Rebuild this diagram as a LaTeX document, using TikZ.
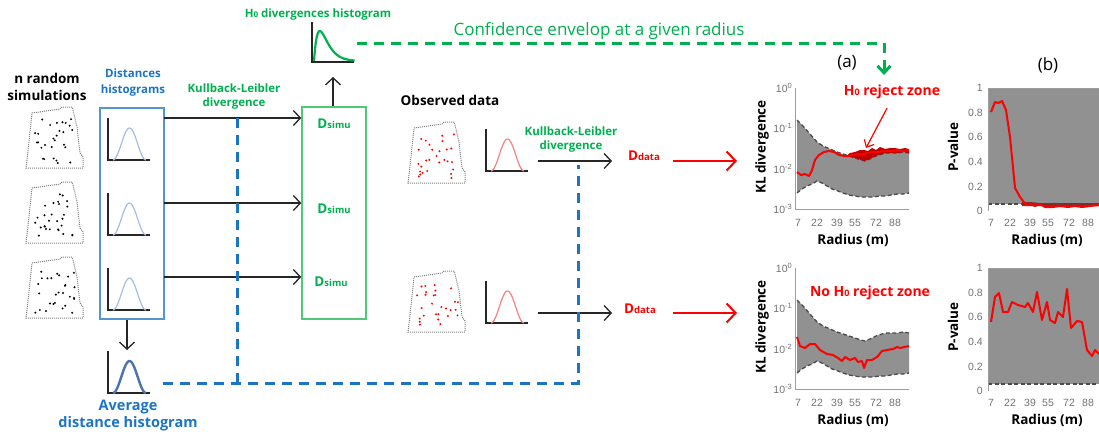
\documentclass[tikz,border=0pt]{standalone}
\usepackage{fontspec}
\setmainfont{Open Sans}
\newfontfamily\tickfont{Liberation Sans}
\usetikzlibrary{arrows.meta,positioning}

\definecolor{kgreen}{RGB}{0,176,80}
\definecolor{kgreenbox}{RGB}{80,200,120}
\definecolor{kblue}{RGB}{28,117,196}
\definecolor{kbluebox}{RGB}{85,150,210}
\definecolor{histblue}{RGB}{165,190,225}
\definecolor{avgblue}{RGB}{75,115,180}
\definecolor{histred}{RGB}{245,130,130}
\definecolor{bandgray}{RGB}{145,145,145}
\definecolor{bandline}{RGB}{75,75,75}
\definecolor{tickgray}{RGB}{115,115,115}
\definecolor{rejred}{RGB}{190,0,0}
\definecolor{lowred}{RGB}{130,45,40}

\newcommand\smalltxt[2]{{\fontsize{#1}{#1}\selectfont #2}}
\newcommand\tsup[1]{\raisebox{0.7ex}{\fontsize{7.5}{7.5}\selectfont #1}}

% little histogram: axes corner x, y, curve style
\newcommand\minihist[3]{%
  \draw[black!85, line width=1.4pt] (#1,#2-42) -- (#1,#2) -- (#1+42,#2);
  \draw[#3] plot[domain=0:1, samples=31, smooth] ({#1+5+33*\x},{#2-32*sin(180*\x)^2});
}
% study plot with points: top-left x, y, dot colour
\newcommand\field[3]{%
  \draw[gray, densely dotted, line width=1pt] (#1+7,#2+6) -- (#1+35,#2+2) -- (#1+37,#2) -- (#1+47,#2) -- (#1+48,#2+3) -- (#1+52,#2+20) -- (#1+55,#2+46) -- (#1+58,#2+50) -- (#1+58,#2+61) -- (#1+1,#2+61) -- (#1+2,#2+53) -- (#1+5,#2+25) -- cycle;
  \foreach \i in {1,...,28}
    \fill[#3] ({#1+30+21*rand},{#2+34+22*rand}) circle (1.1pt);
}

\begin{document}
\begin{tikzpicture}[x=1pt, y=-1pt,
  every node/.style={inner sep=0pt, align=center},
  blk/.style={font=\bfseries\fontsize{13.5}{17}\selectfont},
  grnlab/.style={text=kgreen, font=\bfseries\fontsize{11.5}{14}\selectfont},
  blulab/.style={text=kblue, font=\bfseries\fontsize{11.5}{16}\selectfont},
  dlab/.style={font=\bfseries\fontsize{13.5}{15}\selectfont},
  rejlab/.style={text=red, font=\bfseries\fontsize{14}{14}\selectfont},
  axlab/.style={font=\bfseries\fontsize{13.5}{14}\selectfont},
  tick/.style={text=tickgray, font=\tickfont\fontsize{10.5}{11}\selectfont},
  arr/.style={black!85, line width=1.3pt, -{Straight Barb[length=7pt, width=15pt]}},
  rarr/.style={red, line width=2pt, -{Straight Barb[length=9pt, width=19pt]}},
  bdash/.style={kblue, line width=3pt, dash pattern=on 10pt off 7pt},
  gdash/.style={kgreen, line width=3pt, dash pattern=on 10pt off 7pt},
  envl/.style={bandline, line width=1.3pt, dash pattern=on 4pt off 2.5pt},
  redline/.style={red, line width=2pt, line join=round}]
  \path[use as bounding box, fill=white] (0,0) rectangle (1099,437);
  \pgfmathsetseed{7}

  % simulations
  \node[blk] (nsim) at (47,87) {n random\\simulations};
  \field{25}{107}{black}
  \field{25}{182}{black}
  \field{25}{257}{black}

  \node[blulab] (dh) at (133,83) {Distances\\histograms};
  \node[draw=kbluebox, line width=1.5pt, minimum width=64pt, minimum height=211pt] (hbox) at (132,213.5) {};
  \minihist{108}{160}{histblue, line width=1.2pt}
  \minihist{108}{235}{histblue, line width=1.2pt}
  \minihist{108}{310}{histblue, line width=1.2pt}

  \coordinate (avgtop) at (127,350);
  \minihist{108}{393}{avgblue, line width=2.4pt}
  \node[text=kblue, font=\bfseries\fontsize{14.5}{17}\selectfont] (avg) at (128,416) {Average\\distance histogram};
  \draw[arr] (hbox.south -| avgtop) -- (avgtop);

  \node[grnlab] (kl1lab) at (234,97) {Kullback-Leibler\\divergence};
  \node[draw=kgreenbox, line width=1.5pt, minimum width=64pt, minimum height=212pt] (sbox) at (334,213) {};
  \node[dlab, text=kgreen] (ds1) at (334,124) {D\smalltxt{9.5}{simu}};
  \node[dlab, text=kgreen] (ds2) at (334,209) {D\smalltxt{9.5}{simu}};
  \node[dlab, text=kgreen] (ds3) at (331,282) {D\smalltxt{9.5}{simu}};

  \coordinate (h1) at (164,118);
  \coordinate (h2) at (164,203);
  \coordinate (h3) at (164,277);
  \draw[arr] (h1) -- (h1 -| sbox.west);
  \draw[arr] (h2) -- (h2 -| sbox.west);
  \draw[arr] (h3) -- (h3 -| sbox.west);

  % H0 histogram
  \node[grnlab] (h0lab) at (318,15) {H\smalltxt{8}{0} divergences histogram};
  \draw[black!85, line width=1.4pt] (312,22) -- (312,62) -- (354,62);
  \draw[kgreen, line width=2.2pt] plot[domain=0:7, samples=40, smooth] ({314+5.8*\x},{61-30*\x*exp(1-\x)});
  \coordinate (h0bot) at (333,77);
  \draw[arr] (sbox.north -| h0bot) -- (h0bot);

  \node[text=kgreen, font=\fontsize{17}{17}\selectfont] (conf) at (599,31) {Confidence envelop at a given radius};
  \coordinate (h0r) at (357,43);
  \coordinate (gtip) at (884,75);
  \draw[gdash, -{Straight Barb[length=7pt, width=13pt]}] (h0r) -| (gtip);

  % observed data
  \node[blk] (obs) at (450,100) {Observed data};
  \field{407}{122}{red}
  \field{407}{271}{red}
  \minihist{486}{171}{histred, line width=1.2pt}
  \minihist{486}{323}{histred, line width=1.2pt}
  \node[grnlab] (kl2lab) at (571,140) {Kullback-Leibler\\divergence};
  \node[dlab, text=red] (dd1) at (644,156) {D\smalltxt{9.5}{data}};
  \node[dlab, text=red] (dd2) at (640,309) {D\smalltxt{9.5}{data}};
  \coordinate (o1) at (538,161);
  \coordinate (o2) at (538,313);
  \draw[arr] (o1) -- (612,161);
  \draw[arr] (o2) -- (612,313);
  \coordinate (p1) at (737,161);
  \coordinate (p2) at (737,313);
  \draw[rarr] (673,161) -- (p1);
  \draw[rarr] (673,313) -- (p2);

  % blue dashed links
  \coordinate (kl1) at (237,118);
  \coordinate (kl2) at (578,165);
  \coordinate (avgr) at (163,383);
  \draw[bdash] (avgr) -- (kl2 |- avgr) -- (kl2);
  \draw[bdash] (kl1) -- (kl1 |- avgr);

  % plots (a) and (b)
  \node[font=\fontsize{17}{17}\selectfont] (pa) at (847,63) {(a)};
  \node[font=\fontsize{17}{17}\selectfont] (pb) at (1048,65) {(b)};
  \foreach \oy/\nm in {0/up,180/lo}{
    \begin{scope}[shift={(0,\oy)}]
      \fill[bandgray] plot coordinates {(797,120) (803,126) (810,134) (817,142) (823,146) (830,149) (837,152) (843,154) (849,156) (855,158) (861,160) (865,161) (870,159) (876,156) (882,154) (887,153) (893,153) (898,153) (903,152) (909,153)}
        -- plot coordinates {(909,193) (903,194) (897,194) (891,195) (885,196) (879,196) (873,197) (867,197) (861,197) (855,196) (849,195) (843,193) (838,191) (832,189) (827,186) (822,183) (817,181) (812,184) (807,186) (802,189) (797,193)} -- cycle;
      \draw[envl] plot coordinates {(797,120) (803,126) (810,134) (817,142) (823,146) (830,149) (837,152) (843,154) (849,156) (855,158) (861,160) (865,161) (870,159) (876,156) (882,154) (887,153) (893,153) (898,153) (903,152) (909,153)};
      \draw[envl] plot coordinates {(797,193) (802,189) (807,186) (812,184) (817,181) (822,183) (827,186) (832,189) (838,191) (843,193) (849,195) (855,196) (861,197) (867,197) (873,197) (879,196) (885,196) (891,195) (897,194) (903,194) (909,193)};
      \draw[tickgray!70, line width=1pt] (795,88) -- (795,209) -- (909,209);
      \foreach \k/\yy in {0/88,1/128,2/169,3/209}
        \node[tick, anchor=east] (kly\nm\k) at (792,\yy) {10\tsup{\ifnum\k=0 0\else -\k\fi}};
      \foreach \r/\xx in {7/798,22/817,39/837,55/855,72/876,88/895}{
        \node[tick] (klx\nm\r) at (\xx,223) {\r};
        \node[tick] (px\nm\r) at (\xx+193,223) {\r};
      }
      \node[axlab, rotate=90] (kll\nm) at (762,147) {KL divergence};
      \node[axlab] (klr\nm) at (853,240) {Radius (m)};

      \fill[bandgray] (988,88) rectangle (1099,204);
      \draw[envl] (988,204) -- (1099,204);
      \draw[tickgray!70, line width=1pt] (1099,88) -- (988,88) -- (988,211);
      \foreach \v in {0,0.2,0.4,0.6,0.8,1}
        \node[tick, anchor=east] (py\nm\v) at (983,{211-123*\v}) {\v};
      \node[axlab, rotate=90] (pvl\nm) at (953,147) {P-value};
      \node[axlab] (pvr\nm) at (1047,240) {Radius (m)};
    \end{scope}
  }

  % H0 reject zone, top
  \fill[rejred] (846,156) -- (850,153) -- (855,152) -- (860,150) -- (864,150) -- (868,151) -- (872,148) -- (876,150) -- (880,147) -- (885,149) -- (890,148) -- (895,148) -- (900,149) -- (905,148) -- (909,149)
    -- (909,153) -- (903,152) -- (898,153) -- (887,153) -- (882,154) -- (876,156) -- (870,159) -- (865,161) -- (861,160) -- (855,158) -- cycle;
  \draw[redline] plot coordinates {(797,172) (801,175) (805,174) (809,176) (812,170) (815,160) (819,155) (824,152) (829,151) (834,152) (839,155) (844,156) (849,156) (853,155) (858,154) (863,154) (868,153) (873,152) (878,152) (883,151) (888,151) (893,151) (898,150) (903,151) (909,150)};
  \node[rejlab] (rej) at (892,92) {H\smalltxt{9}{0} reject zone};
  \coordinate (rejtip) at (866,148);
  \draw[red, line width=1.2pt, -{Straight Barb[length=6pt, width=11pt]}] ([xshift=-5pt, yshift=-9pt]rej.south) -- (rejtip);

  % bottom (a)
  \draw[redline] plot coordinates {(797,337) (800,346) (805,348) (810,344) (815,344) (820,350) (827,354) (833,355) (838,358) (842,361) (845,357) (850,360) (855,358) (858,362) (862,361) (864,368) (867,360) (872,360) (877,357) (882,351) (887,350) (893,349) (897,347) (900,348) (909,346)};
  \node[rejlab] (norej) at (870,293) {No H\smalltxt{9}{0} reject zone};

  % (b) curves
  \fill[lowred] (1022,202) -- (1030,202) -- (1040,203) -- (1050,203) -- (1060,203) -- (1070,203) -- (1080,203) -- (1090,203) -- (1099,203) -- (1099,206) -- (1060,206) -- (1022,206) -- cycle;
  \draw[redline] plot coordinates {(991,112) (995,102) (998,103) (1002,101) (1006,110) (1010,137) (1015,188) (1020,197) (1026,205) (1030,204) (1035,206) (1040,204) (1045,207) (1053,207) (1060,206) (1068,207) (1075,206) (1082,207) (1090,206) (1099,205)};
  \draw[redline] plot coordinates {(991,322) (995,297) (999,293) (1003,312) (1008,312) (1012,302) (1018,305) (1025,307) (1028,303) (1033,312) (1037,292) (1042,320) (1047,302) (1050,320) (1055,323) (1058,312) (1063,317) (1067,289) (1071,328) (1077,321) (1082,322) (1087,350) (1092,356) (1095,350) (1099,354)};
\end{tikzpicture}
\end{document}
